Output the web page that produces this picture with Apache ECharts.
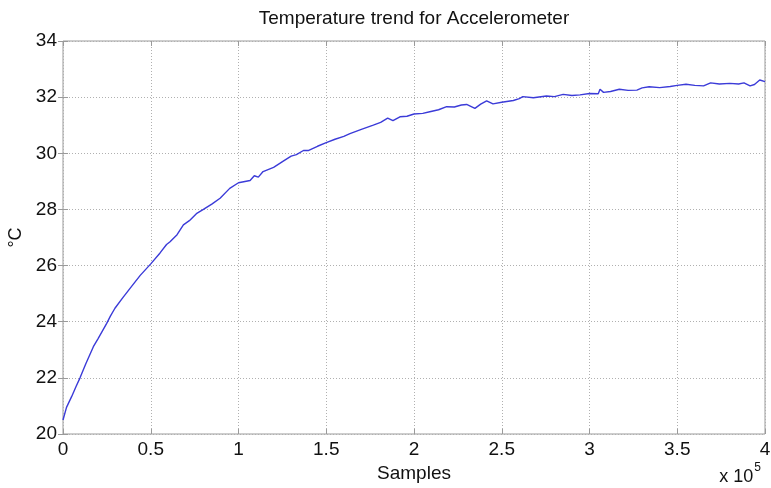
<!DOCTYPE html>
<html>
<head>
<meta charset="utf-8">
<script src="https://cdn.jsdelivr.net/npm/echarts@6/dist/echarts.min.js"></script>
<style>html,body{margin:0;padding:0;background:#fff;}#c{width:771px;height:488px;}</style>
</head>
<body>
<div id="c"></div>
<script>
// Sample index in units of 1e5
var samplesX = [0.000,0.020,0.049,0.075,0.097,0.13,0.173,0.20,0.249,0.27,0.296,0.34,0.382,0.44,0.5,0.553,0.59,0.61,0.65,0.686,0.72,0.76,0.80,0.85,0.895,0.95,1.0,1.066,1.09,1.113,1.14,1.2,1.255,1.30,1.33,1.37,1.40,1.45,1.5,1.55,1.6,1.635,1.7,1.768,1.81,1.85,1.88,1.92,1.96,2.0,2.05,2.09,2.14,2.186,2.23,2.27,2.3,2.347,2.38,2.414,2.45,2.5,2.566,2.6,2.62,2.68,2.755,2.8,2.85,2.9,2.946,3.0,3.05,3.06,3.08,3.12,3.17,3.22,3.27,3.3,3.34,3.4,3.46,3.5,3.55,3.6,3.65,3.69,3.74,3.8,3.85,3.88,3.915,3.94,3.97,4.0];
// Temperature in °C
var temperature = [20.5,20.95,21.33,21.7,22.0,22.5,23.11,23.4,23.94,24.2,24.48,24.85,25.19,25.65,26.06,26.45,26.75,26.85,27.1,27.45,27.6,27.85,28.0,28.2,28.4,28.75,28.95,29.03,29.2,29.15,29.35,29.5,29.72,29.9,29.95,30.1,30.1,30.25,30.38,30.5,30.6,30.7,30.85,31.0,31.1,31.25,31.16,31.3,31.32,31.4,31.42,31.48,31.55,31.66,31.65,31.72,31.74,31.6,31.75,31.87,31.76,31.82,31.88,31.95,32.02,31.98,32.04,32.02,32.1,32.06,32.08,32.13,32.12,32.28,32.17,32.2,32.28,32.24,32.25,32.33,32.37,32.34,32.38,32.42,32.46,32.42,32.4,32.51,32.47,32.49,32.47,32.51,32.4,32.45,32.61,32.55];
var xTickLabels = ['0','0.5','1','1.5','2','2.5','3','3.5','4'];
var yTickLabels = ['20','22','24','26','28','30','32','34'];

var pts = samplesX.map(function(x,i){return [x, temperature[i]];});
var FONT = 'Liberation Sans, Arial, sans-serif';
var chart = echarts.init(document.getElementById('c'), null, {renderer:'canvas'});
var gridLine = {show:true, lineStyle:{color:'#b0b0b0', type:[1,2], width:1}};
chart.setOption({
  animation:false,
  backgroundColor:'#fff',
  grid:{left:63, right:6, top:41, bottom:54, show:true, borderColor:'#9a9a9a', borderWidth:1,
    containLabel:false, outerBoundsMode:'none'},
  xAxis:[{
    type:'value', min:0, max:4, interval:0.5,
    name:'Samples', nameLocation:'middle', nameGap:25,
    nameTextStyle:{fontFamily:FONT, fontSize:19, color:'#111'},
    axisLine:{show:false}, axisTick:{show:true, inside:true, length:5, lineStyle:{color:'#9a9a9a'}},
    axisLabel:{fontFamily:FONT, fontSize:19, color:'#111', margin:6,
      formatter:function(v){return xTickLabels[Math.round(v/0.5)];}},
    splitLine:gridLine
  },{
    type:'value', min:0, max:4, interval:0.5, position:'top',
    axisLine:{show:false}, axisTick:{show:true, inside:true, length:5, lineStyle:{color:'#9a9a9a'}},
    axisLabel:{show:false}, splitLine:{show:false}
  }],
  yAxis:[{
    type:'value', min:20, max:34, interval:2,
    name:'°C', nameLocation:'middle', nameGap:35, nameRotate:90,
    nameTextStyle:{fontFamily:FONT, fontSize:18, color:'#111'},
    axisLine:{show:false}, axisTick:{show:true, inside:true, length:5, lineStyle:{color:'#9a9a9a'}},
    axisLabel:{fontFamily:FONT, fontSize:19, color:'#111', margin:6,
      formatter:function(v){return yTickLabels[Math.round((v-20)/2)];}},
    splitLine:gridLine
  },{
    type:'value', min:20, max:34, interval:2, position:'right',
    axisLine:{show:false}, axisTick:{show:true, inside:true, length:5, lineStyle:{color:'#9a9a9a'}},
    axisLabel:{show:false}, splitLine:{show:false}
  }],
  graphic:[{
    type:'text', x:414, y:9,
    style:{text:'Temperature trend for Accelerometer', align:'center', verticalAlign:'top',
      fontFamily:FONT, fontSize:19, fill:'#111'}
  },{
    type:'text', right:10, bottom:2,
    style:{text:'{a|x 10}{s|5}', rich:{
      a:{fontFamily:FONT, fontSize:18, fill:'#111', verticalAlign:'bottom'},
      s:{fontFamily:FONT, fontSize:12, fill:'#111', verticalAlign:'top', padding:[0,0,12,1]}}}
  }],
  series:[{
    type:'line', data:pts, showSymbol:false, smooth:false,
    lineStyle:{color:'#3b3bd8', width:1.4}
  }]
});
</script>
</body>
</html>
